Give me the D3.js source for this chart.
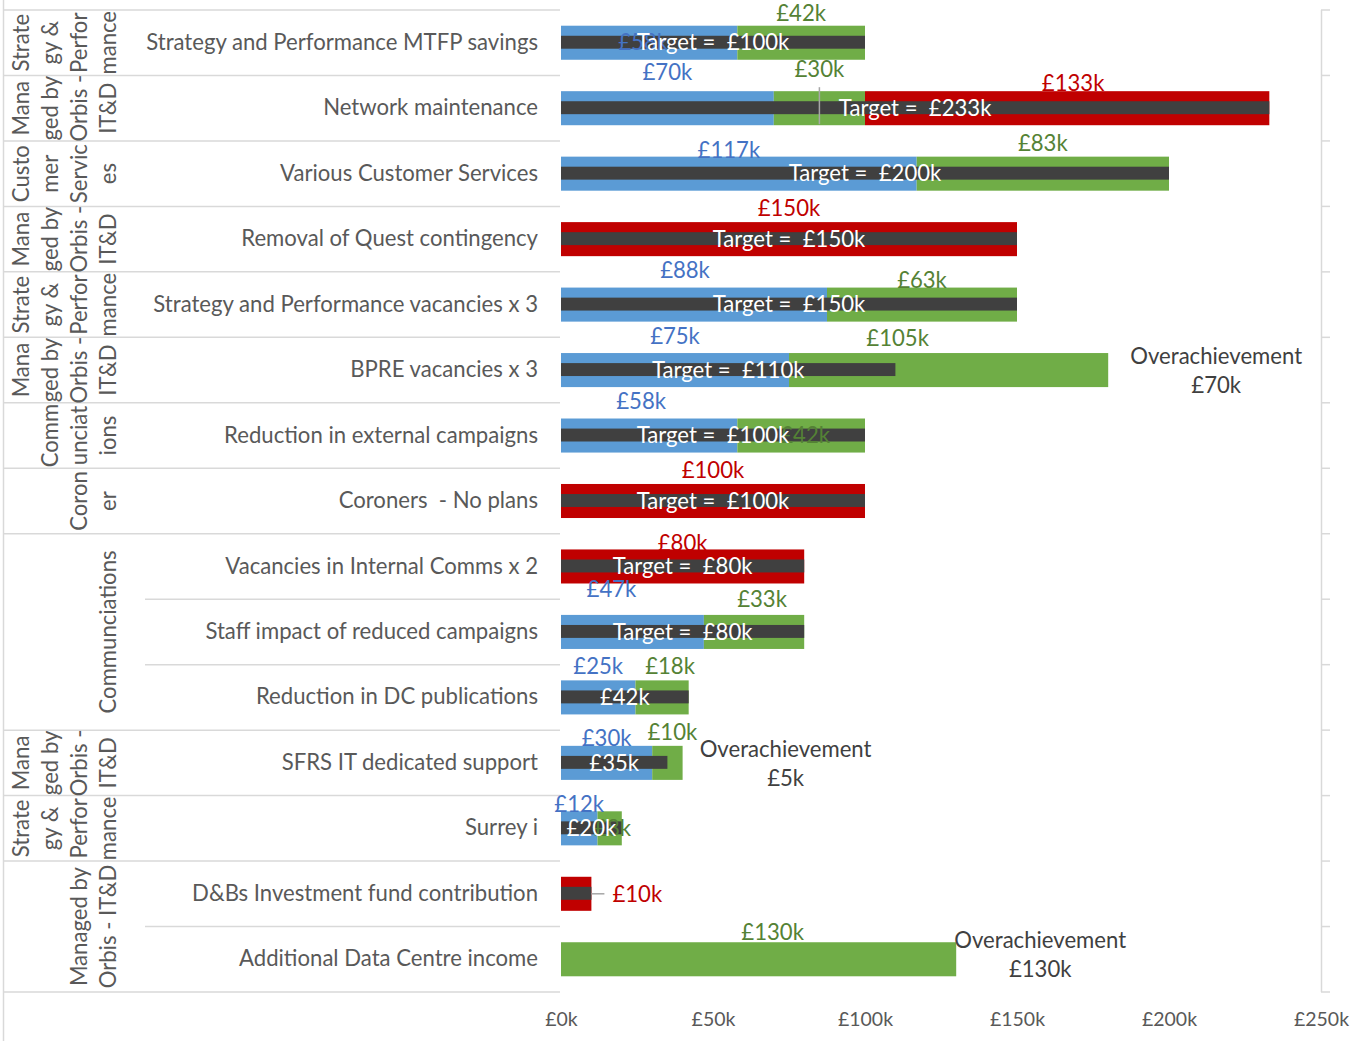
<!DOCTYPE html>
<html><head><meta charset="utf-8">
<script src="https://cdn.jsdelivr.net/npm/d3@7"></script>
<style>
html,body{margin:0;padding:0;background:#fff;}
svg{display:block;font-family:Lato,"Open Sans",sans-serif;}
text{white-space:pre;}
</style></head><body>
<svg id="chart" width="1362" height="1041"></svg>
<script>
// ---------------- DATA ----------------
const categories = [
  "Strategy and Performance MTFP savings",
  "Network maintenance",
  "Various Customer Services",
  "Removal of Quest contingency",
  "Strategy and Performance vacancies x 3",
  "BPRE vacancies x 3",
  "Reduction in external campaigns",
  "Coroners  - No plans",
  "Vacancies in Internal Comms x 2",
  "Staff impact of reduced campaigns",
  "Reduction in DC publications",
  "SFRS IT dedicated support",
  "Surrey i",
  "D&Bs Investment fund contribution",
  "Additional Data Centre income"
];
// group labels (as wrapped in the picture), first row index, number of rows
const groupLines = [
  ["Strate","gy &","Perfor","mance"],
  ["Mana","ged by","Orbis -","IT&D"],
  ["Custo","mer","Servic","es"],
  ["Mana","ged by","Orbis -","IT&D"],
  ["Strate","gy &","Perfor","mance"],
  ["Mana","ged by","Orbis -","IT&D"],
  ["Comm","unciat","ions"],
  ["Coron","er"],
  ["Communciations"],
  ["Mana","ged by","Orbis -","IT&D"],
  ["Strate","gy &","Perfor","mance"],
  ["Managed by","Orbis - IT&D"]
];
const groupStart = [0,1,2,3,4,5,6,7,8,11,12,13];
const groupSize  = [1,1,1,1,1,1,1,1,3,1,1,2];

const achieved = [58, 70, 117, 0, 87.5, 75, 58, 0, 0, 47, 24.5, 30, 12, 0, 0];
const onTrack  = [42, 30, 83, 0, 62.5, 105, 42, 0, 0, 33, 17.5, 10, 8, 0, 130];
const atRisk   = [0, 133, 0, 150, 0, 0, 0, 100, 80, 0, 0, 0, 0, 10, 0];
const targets  = [100, 233, 200, 150, 150, 110, 100, 100, 80, 80, 42, 35, 20, 10, 0];
const targetLabels = [
  "Target =  £100k","Target =  £233k","Target =  £200k","Target =  £150k",
  "Target =  £150k","Target =  £110k","Target =  £100k","Target =  £100k",
  "Target =  £80k","Target =  £80k","£42k","£35k","£20k","",""
];
const xTicks = [0, 50, 100, 150, 200, 250];

// ---------------- LAYOUT / STYLE ----------------
const seriesKeys = ["achieved","onTrack","atRisk"];
const barColor  = {achieved:"#5B9BD5", onTrack:"#70AD47", atRisk:"#C00000"};
const textColor = {achieved:"#4472C4", onTrack:"#548235", atRisk:"#C00000"};
const labelNudge = {
  "0:achieved": {inside:true, dx:-6},
  "0:onTrack": {dy:1.5},
  "1:achieved": {dy:-5},
  "1:onTrack": {dy:-8, leader:true},
  "1:atRisk": {dx:6, dy:6},
  "2:achieved": {dx:-10, dy:8},
  "2:onTrack": {dy:1},
  "4:achieved": {dx:-9, dy:-3},
  "4:onTrack": {dy:7},
  "5:achieved": {dy:-3},
  "5:onTrack": {dx:-51, dy:-1},
  "6:achieved": {dx:-8, dy:-3},
  "6:onTrack": {inside:true, dx:4},
  "8:atRisk": {dy:8},
  "9:achieved": {dx:-21, dy:-12},
  "9:onTrack": {dx:8, dy:-2},
  "10:onTrack": {dx:8},
  "11:achieved": {dy:6},
  "11:onTrack": {dx:5},
  "12:achieved": {dy:7},
  "12:onTrack": {inside:true, dx:3},
  "13:atRisk": {right:true},
  "14:onTrack": {dx:14, dy:4}
};
const overNudge = {5:{dx:8,dy:0}, 11:{dx:3,dy:0}, 14:{dx:-16,dy:-5}};

const svg = d3.select("#chart");
const W = 1362, H = 1041;
const plotL = 561, plotR = 1321, plotT = 10, plotB = 992;

// calibrate font size to the reference label width
const probe = svg.append("text").style("font-size","20px").text(categories[0]);
const fs = 20 * 392 / probe.node().getComputedTextLength();
probe.remove();

const x = d3.scaleLinear().domain([0, 250]).range([plotL, plotR]);
const y = d3.scaleBand().domain(d3.range(categories.length)).range([plotT, plotB])
  .paddingInner(0.48).paddingOuter(0.24);
const step = y.step();
const rowTop = i => plotT + i * step;
const rowC = i => y(i) + y.bandwidth() / 2;

const table = categories.map((c, i) => ({i, achieved: achieved[i], onTrack: onTrack[i], atRisk: atRisk[i]}));
const stacked = d3.stack().keys(seriesKeys)(table);

const gridC = "#D9D9D9";
// left border
svg.append("line").attr("x1",3.5).attr("x2",3.5).attr("y1",0).attr("y2",H)
  .attr("stroke",gridC).attr("stroke-width",1.5);
// right axis line
svg.append("line").attr("x1",plotR+0.5).attr("x2",plotR+0.5).attr("y1",plotT).attr("y2",plotB)
  .attr("stroke",gridC).attr("stroke-width",1.5);

// row separators
const groupBounds = new Set();
groupStart.forEach((s, g) => { groupBounds.add(s); groupBounds.add(s + groupSize[g]); });
for (let b = 0; b <= categories.length; b++) {
  const yy = rowTop(b);
  const full = groupBounds.has(b);
  svg.append("line").attr("x1", full ? 3.5 : 145).attr("x2", 560)
    .attr("y1", yy).attr("y2", yy).attr("stroke", gridC).attr("stroke-width", 1.5);
  svg.append("line").attr("x1", plotR).attr("x2", plotR + 9)
    .attr("y1", yy).attr("y2", yy).attr("stroke", gridC).attr("stroke-width", 1.5);
}

// group labels (rotated)
const lineGap = 29, lastX = 108;
groupLines.forEach((lines, g) => {
  const cy = rowTop(groupStart[g]) + groupSize[g] * step / 2;
  lines.forEach((t, k) => {
    const lx = lastX - (lines.length - 1 - k) * lineGap;
    svg.append("text")
      .attr("transform", `translate(${lx},${cy}) rotate(-90)`)
      .attr("text-anchor","middle").attr("dy","0.35em")
      .style("font-size", fs + "px").attr("fill","#595959").text(t);
  });
});

// category axis
const yAxis = d3.axisLeft(y).tickSize(0).tickPadding(23).tickFormat(i => categories[i]);
const ga = svg.append("g").attr("transform", `translate(${plotL},0)`).call(yAxis);
ga.select(".domain").remove();
ga.selectAll("text").style("font-size", fs + "px").attr("fill","#595959")
  .style("font-family","Lato,'Open Sans',sans-serif");

// x axis
const xAxis = d3.axisBottom(x).tickValues(xTicks).tickSize(0).tickFormat(d => `£${d}k`);
const gx = svg.append("g").attr("transform", `translate(0,${plotB})`).call(xAxis);
gx.select(".domain").remove();
gx.selectAll("text").attr("y", 27).attr("dy","0.35em").style("font-size", (fs*0.88) + "px")
  .attr("fill","#595959").style("font-family","Lato,'Open Sans',sans-serif");

// stacked bars
stacked.forEach(s => {
  svg.append("g").selectAll("rect").data(s).join("rect")
    .attr("x", d => x(d[0])).attr("width", d => x(d[1]) - x(d[0]))
    .attr("y", d => y(d.data.i)).attr("height", y.bandwidth())
    .attr("fill", barColor[s.key]);
});

// target bars
const tH = y.bandwidth() * 0.38;
svg.append("g").selectAll("rect").data(targets.map((t, i) => ({t, i})).filter(d => d.t > 0)).join("rect")
  .attr("x", x(0)).attr("width", d => x(d.t) - x(0))
  .attr("y", d => rowC(d.i) - tH / 2 - 0.5).attr("height", tH)
  .attr("fill", "#404040");

// value labels
const fmt = v => `£${v.toFixed(0)}k`;
const lg = svg.append("g");
stacked.forEach(s => {
  s.forEach(d => {
    const i = d.data.i, v = d[1] - d[0];
    if (!(v > 0)) return;
    const n = labelNudge[`${i}:${s.key}`] || {};
    let lx, ly, anchor = "middle";
    if (n.right) {
      lx = x(d[1]) + 21; ly = rowC(i); anchor = "start";
      lg.append("line").attr("x1", x(d[1])).attr("x2", x(d[1]) + 13)
        .attr("y1", ly).attr("y2", ly).attr("stroke","#A6A6A6").attr("stroke-width",1.5);
    } else if (n.inside) {
      lx = (x(d[0]) + x(d[1])) / 2 + (n.dx || 0); ly = rowC(i) + (n.dy || 0);
    } else {
      lx = (x(d[0]) + x(d[1])) / 2 + (n.dx || 0);
      ly = y(i) - 14 + (n.dy || 0);
    }
    if (n.leader) {
      lg.append("line").attr("x1", lx).attr("x2", lx)
        .attr("y1", ly + 18).attr("y2", y(i) + y.bandwidth() - 1)
        .attr("stroke","#A6A6A6").attr("stroke-width",1.5);
    }
    lg.append("text").attr("x", lx).attr("y", ly).attr("dy","0.35em")
      .attr("text-anchor", anchor).style("font-size", fs + "px")
      .attr("fill", textColor[s.key]).text(fmt(v));
  });
});

// target texts
targets.forEach((t, i) => {
  if (!(t > 0) || !targetLabels[i]) return;
  svg.append("text").attr("x", (x(0) + x(t)) / 2).attr("y", rowC(i)).attr("dy","0.35em")
    .attr("text-anchor","middle").style("font-size", fs + "px").attr("fill","#FFFFFF")
    .text(targetLabels[i]);
});

// overachievement notes
categories.forEach((c, i) => {
  const over = achieved[i] + onTrack[i] - targets[i];
  if (atRisk[i] > 0 || !(over > 0)) return;
  const n = overNudge[i] || {dx:0, dy:0};
  const cx = x(achieved[i] + onTrack[i]) + 100 + n.dx;
  const cy = rowC(i) + n.dy;
  svg.append("text").attr("x", cx).attr("y", cy - 14).attr("dy","0.35em")
    .attr("text-anchor","middle").style("font-size", fs + "px").attr("fill","#404040")
    .text("Overachievement");
  svg.append("text").attr("x", cx).attr("y", cy + 15).attr("dy","0.35em")
    .attr("text-anchor","middle").style("font-size", fs + "px").attr("fill","#404040")
    .text(fmt(over));
});
</script>
</body></html>
